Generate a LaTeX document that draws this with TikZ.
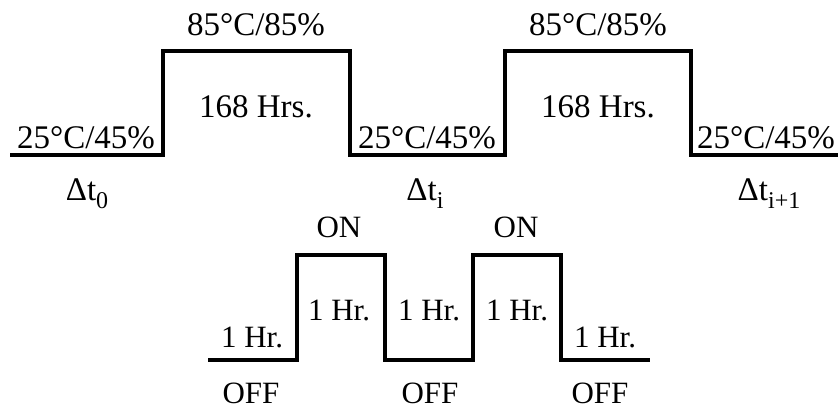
\documentclass[tikz,border=0pt]{standalone}
\usepackage{fontspec}
\setmainfont{Liberation Serif}
\newcommand{\subtxt}[1]{\raisebox{-0.25em}{\fontsize{24}{24}\selectfont #1}}
\begin{document}
\begin{tikzpicture}[x=1pt,y=-1pt,
  wave/.style={line width=4pt,line join=miter,line cap=butt},
  lblA/.style={anchor=base,inner sep=0pt,font=\fontsize{33}{33}\selectfont},
  lblB/.style={anchor=base,inner sep=0pt,font=\fontsize{31}{31}\selectfont}]
\useasboundingbox (0,0) rectangle (838,410);
% top waveform
\coordinate (t0) at (10,155);
\coordinate (t1) at (163,155);
\coordinate (t2) at (163,51);
\coordinate (t3) at (350,51);
\coordinate (t4) at (350,155);
\coordinate (t5) at (505,155);
\coordinate (t6) at (505,51);
\coordinate (t7) at (691,51);
\coordinate (t8) at (691,155);
\coordinate (t9) at (838,155);
\draw[wave] (t0) -- (t1) -- (t2) -- (t3) -- (t4) -- (t5) -- (t6) -- (t7) -- (t8) -- (t9);
% bottom waveform
\coordinate (b0) at (208,360);
\coordinate (b1) at (297,360);
\coordinate (b2) at (297,255);
\coordinate (b3) at (385,255);
\coordinate (b4) at (385,360);
\coordinate (b5) at (473,360);
\coordinate (b6) at (473,255);
\coordinate (b7) at (561,255);
\coordinate (b8) at (561,360);
\coordinate (b9) at (650,360);
\draw[wave] (b0) -- (b1) -- (b2) -- (b3) -- (b4) -- (b5) -- (b6) -- (b7) -- (b8) -- (b9);
% top labels
\node[lblA] (h1) at (256,35) {85°C/85\%};
\node[lblA] (h2) at (598,35) {85°C/85\%};
\node[lblA] (d1) at (256,117) {168 Hrs.};
\node[lblA] (d2) at (598,117) {168 Hrs.};
\node[lblA] (l1) at (86,148) {25°C/45\%};
\node[lblA] (l2) at (427,148) {25°C/45\%};
\node[lblA] (l3) at (766,148) {25°C/45\%};
\node[lblA] (dt0) at (87,200) {Δt\subtxt{0}};
\node[lblA] (dti) at (425,200) {Δt\subtxt{i}};
\node[lblA] (dti1) at (769,200) {Δt\subtxt{i+1}};
% bottom labels
\node[lblB] (on1) at (339,237) {ON};
\node[lblB] (on2) at (516,237) {ON};
\node[lblB] (r1) at (252,347) {1 Hr.};
\node[lblB] (r2) at (339,320) {1 Hr.};
\node[lblB] (r3) at (429,320) {1 Hr.};
\node[lblB] (r4) at (517,320) {1 Hr.};
\node[lblB] (r5) at (605,347) {1 Hr.};
\node[lblB] (off1) at (251,403) {OFF};
\node[lblB] (off2) at (430,403) {OFF};
\node[lblB] (off3) at (600,403) {OFF};
\end{tikzpicture}
\end{document}
